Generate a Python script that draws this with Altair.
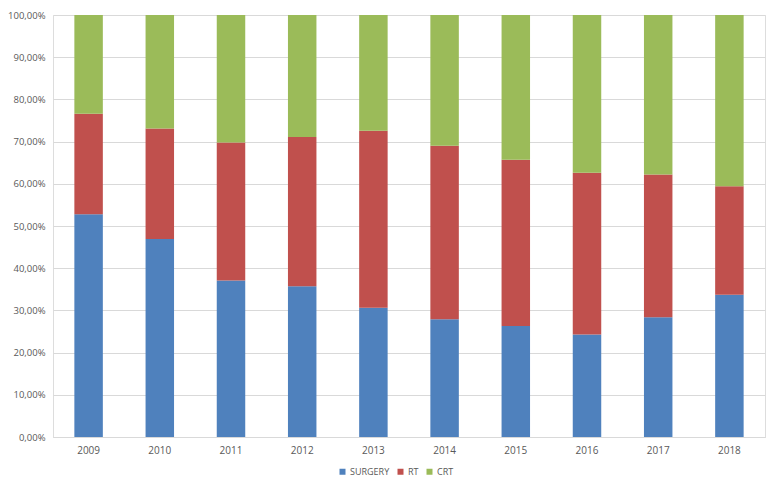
import altair as alt
import pandas as pd

years = ["2009", "2010", "2011", "2012", "2013", "2014", "2015", "2016", "2017", "2018"]
series = ["SURGERY", "RT", "CRT"]
surgery = [52.8, 46.9, 37.1, 35.7, 30.6, 27.9, 26.3, 24.3, 28.4, 33.7]
rt = [23.8, 26.2, 32.7, 35.4, 42.0, 41.1, 39.4, 38.3, 33.8, 25.7]
crt = [23.4, 26.9, 30.2, 28.9, 27.4, 31.0, 34.3, 37.4, 37.8, 40.6]
colors = ["#4f81bd", "#c0504d", "#9bbb59"]
y_ticks = [i / 10 for i in range(11)]

rows = []
for i, y in enumerate(years):
    for k, (name, vals) in enumerate(zip(series, [surgery, rt, crt])):
        rows.append({"year": y, "series": name, "value": vals[i], "idx": k})
df = pd.DataFrame(rows)

font = "Open Sans"
chart = alt.Chart(df).mark_bar().encode(
    x=alt.X("year:N", sort=years, title=None,
            scale=alt.Scale(paddingInner=0.6, paddingOuter=0.3),
            axis=alt.Axis(labelAngle=0, ticks=False, domain=True, domainColor="#d9d9d9",
                          labelPadding=8, labelFontSize=10, labelColor="#595959",
                          labelFont=font, grid=False)),
    y=alt.Y("value:Q", stack="normalize", title=None,
            scale=alt.Scale(domain=[0, 1], nice=False),
            axis=alt.Axis(values=y_ticks, domain=False, ticks=False,
                          labelExpr="replace(format(datum.value, '.2%'), '.', ',')",
                          labelPadding=8, labelFontSize=9.5, labelColor="#595959",
                          labelFont=font, gridColor="#d9d9d9", gridWidth=1)),
    color=alt.Color("series:N", sort=series,
                    scale=alt.Scale(domain=series, range=colors),
                    legend=alt.Legend(title=None, orient="none", direction="horizontal",
                                      legendX=285, legendY=452,
                                      symbolType="square", symbolSize=36,
                                      symbolStrokeWidth=0, labelFontSize=9,
                                      labelColor="#595959", labelFont=font,
                                      labelOffset=3, columnPadding=6)),
    order=alt.Order("idx:Q", sort="ascending"),
).properties(
    width=712, height=422,
    autosize=alt.AutoSizeParams(type="none"),
    padding={"left": 45, "top": 7, "right": 5, "bottom": 45},
).configure_view(stroke=None).configure(background="white")

chart.save("out.html", embed_options={"renderer": "svg", "actions": False})
